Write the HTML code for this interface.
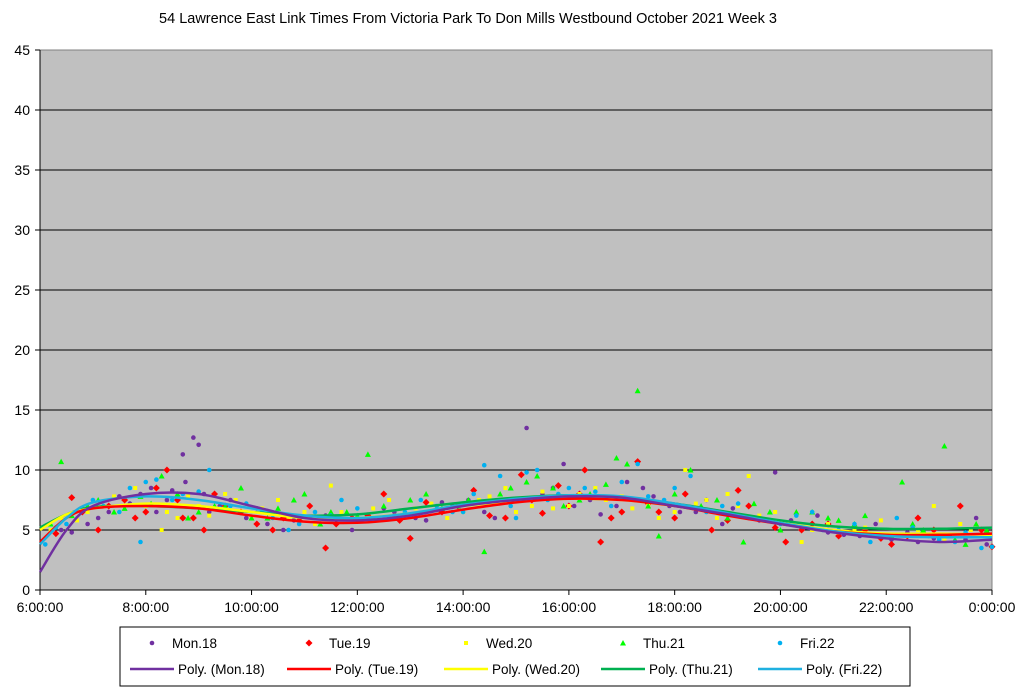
<!DOCTYPE html>
<html><head><meta charset="utf-8"><style>
body{margin:0;background:#fff;font-family:"Liberation Sans",sans-serif}
svg{display:block}
</style></head><body>
<svg id="chart" width="1024" height="692" viewBox="0 0 1024 692">
<text x="468" y="23" text-anchor="middle" font-size="14.5" fill="#000">54 Lawrence East Link Times From Victoria Park To Don Mills Westbound October 2021  Week 3</text>
<rect x="40" y="50" width="952" height="540" fill="#c0c0c0" stroke="#808080"/>
<g id="grid"></g><g id="axes"></g><g id="pts"></g><g id="lines"></g>
<rect x="120" y="627" width="790" height="59" fill="#fff" stroke="#000"/>
<g id="legend"></g>
</svg>
<script>
const yTicks=[0,5,10,15,20,25,30,35,40,45];
const xTicks=[6,8,10,12,14,16,18,20,22,24];
const xTickLabels=["6:00:00","8:00:00","10:00:00","12:00:00","14:00:00","16:00:00","18:00:00","20:00:00","22:00:00","0:00:00"];
const seriesNames=["Mon.18","Tue.19","Wed.20","Thu.21","Fri.22"];
const trendT=[6,6.5,7,8,9,10,11,12,13,14,15,16,17,18,19,20,21,22,23,24];
const monTrend=[1.5,5,7,8,8,7,6,5.8,6.2,7,7.5,7.8,7.7,7,6.3,5.5,4.8,4.3,4,4.2];
const tueTrend=[4,6,6.8,7,6.8,6.2,5.7,5.6,6,6.7,7.3,7.6,7.5,7,6.2,5.5,4.9,4.6,4.6,4.7];
const wedTrend=[5,6.3,6.8,7.2,7,6.5,6,6,6.4,7,7.4,7.6,7.5,7,6.3,5.6,5,4.7,4.7,4.6];
const thuTrend=[5.2,6.3,6.9,7,6.8,6.5,6.2,6.3,6.8,7.3,7.7,7.9,7.7,7.2,6.5,5.8,5.3,5.1,5.1,5.2];
const friTrend=[3.8,6,7.3,7.8,7.5,6.8,6.2,6,6.4,7.1,7.6,7.9,7.8,7.2,6.4,5.6,4.9,4.5,4.4,4.4];
const monT=[6.4,6.9,7.3,7.7,8.1,8.4,8.7,8.75,8.9,9.0,9.1,9.4,9.9,10.3,10.6,11.2,11.6,12.2,12.7,13.3,13.8,14.4,14.9,15.2,15.5,15.9,16.4,16.9,17.4,17.9,18.4,18.9,19.4,19.9,20.4,20.9,21.5,22.1,22.6,23.2,23.7,
 6.6,7.1,7.5,7.9,8.2,8.5,9.2,9.6,10.1,10.8,11.4,11.9,12.5,13.1,13.6,14.1,14.6,15.7,16.1,16.6,17.1,17.6,18.1,18.6,19.1,19.6,20.2,20.7,21.2,21.8,22.4,22.9,23.5,23.9];
const monV=[5,5.5,6.5,7.2,8.5,7.5,11.3,9,12.7,12.1,8,7,6,5.5,5,6,5.5,6,6.5,5.8,7,6.5,7.5,13.5,8,10.5,7.5,7,8.5,7,6.5,5.5,6,9.8,5,4.8,4.5,4.2,4,4.5,6,
 4.8,6,7.8,8,6.5,8.3,6.5,7.5,6.8,5.8,6.2,5,6.8,6,7.3,7.5,6,8.5,7,6.3,9,7.8,6.5,7.5,6.8,5.8,5.8,6.2,4.6,5.5,4.8,4.3,4.2,3.8];
const tueT=[6.3,6.6,7.1,7.6,8.0,8.4,8.7,9.1,9.5,10.1,10.6,11.1,11.4,11.9,12.5,13.0,13.6,14.2,14.8,15.1,15.5,16.0,16.3,16.6,17.0,17.3,17.7,18.2,18.7,19.2,19.6,20.1,20.6,21.1,21.6,22.1,22.6,23.0,23.4,23.8,24,
 6.8,7.3,7.8,8.2,8.6,8.9,9.3,9.8,10.4,10.9,11.6,12.2,12.8,13.3,13.9,14.5,15.3,15.8,16.2,16.8,17.5,18.0,18.5,19.0,19.4,19.9,20.4,20.9,21.4,21.9,22.4,22.9];
const tueV=[4.7,7.7,5,7.5,6.5,10,6,5,7,5.5,6,7,3.5,6,8,4.3,6.5,8.3,6,9.6,6.4,7,10,4,6.5,10.7,6.5,8,5,8.3,6,4,5.5,4.5,5,3.8,6,4.5,7,5,3.6,
 6.5,7,6,8.5,7.5,6,8,6.5,5,5.8,5.5,6.2,5.8,7.3,7,6.2,7.5,8.7,8,6,7.2,6,6.8,5.8,7,5.2,5,5.5,4.8,4.3,4.5,5];
const wedT=[6.2,6.7,7.2,7.8,8.3,8.6,9.0,9.5,10.0,10.5,11.0,11.5,12.0,12.6,13.1,13.7,14.3,14.8,15.3,15.7,16.2,16.7,17.2,17.7,18.2,18.6,19.0,19.4,19.9,20.4,20.9,21.4,21.9,22.4,22.9,23.4,23.9,
 6.4,6.9,7.4,8.0,8.4,8.8,9.2,9.7,10.2,10.7,11.2,11.7,12.3,12.8,13.4,14.0,14.5,15.0,15.5,16.0,16.5,17.0,17.5,18.0,18.4,18.8,19.2,19.6,20.1,20.6,21.1,21.6,22.1,22.6,23.1,23.6];
const wedV=[5,5.8,7,8.5,5,6,7,8,6,7.5,6.5,8.7,6,7.5,6.8,6,7.5,8.5,7,6.8,8,7.5,6.8,6,10,7.5,8,9.5,6.5,4,5.5,5,5.8,4.5,7,5.5,4.5,
 6,6.5,7.8,7,6.5,7.8,6.2,7.5,6.8,6,5.5,6.5,6.8,6,7.2,6.5,7.8,6.5,8.2,7,8.5,7.8,7,6.5,7.2,6,7,6.2,5.5,5,4.8,5.2,4.4,5,4.2,5];
const thuT=[6.2,6.4,6.9,7.4,7.9,8.3,8.8,9.3,9.8,10.3,10.8,11.3,11.8,12.2,12.7,13.3,13.9,14.4,14.9,15.4,15.9,16.4,16.9,17.1,17.3,17.7,18.3,18.8,19.3,19.8,20.3,20.9,21.4,21.9,22.3,22.7,23.1,23.5,23.9,
 6.6,7.1,7.6,8.1,8.6,9.0,9.5,10.0,10.5,11.0,11.5,12.0,12.5,13.0,13.6,14.1,14.7,15.2,15.7,16.2,16.7,17.5,18.0,18.5,19.0,19.5,20.0,20.6,21.1,21.6,22.1,22.5,23.3,23.7];
const thuV=[5.5,10.7,7,6.5,7.8,9.5,6,7,8.5,6,7.5,5.5,6.5,11.3,6,8,7,3.2,8.5,9.5,7,8,11,10.5,16.6,4.5,10,7.5,4,6.5,6.5,6,5.5,4.5,9,5,12,3.8,5,
 6.2,7.5,6.8,7.2,8,6.5,7,6,6.8,8,6.5,6.2,7,7.5,6.8,7.5,8,9,8.5,7.5,8.8,7,8,7,6,7.2,5,6.5,5.8,6.2,4.5,5.5,4.2,5.5];
const friT=[6.1,6.5,7.0,7.5,7.9,8.2,8.7,9.2,9.6,10.2,10.7,11.2,11.7,12.3,12.9,13.5,14.0,14.4,14.7,15.0,15.4,15.8,16.3,16.8,17.3,17.8,18.3,18.9,19.5,20.0,20.6,21.1,21.7,22.2,22.8,23.3,23.8,
 6.3,6.8,7.2,7.7,8.0,8.5,9.0,9.4,9.9,10.4,10.9,11.5,12.0,12.6,13.2,13.8,14.2,14.9,15.2,15.6,16.0,16.5,17.0,17.5,18.0,18.6,19.2,19.8,20.3,20.8,21.4,21.9,22.5,23.0,23.5,24.0];
const friV=[3.8,5.5,7.5,6.5,4,9.2,8,10,7,6.5,5,6.5,7.5,6,6.5,7,6.5,10.4,9.5,6,10,8,8.5,7,10.5,7.5,9.5,7,6,5.5,6.5,5,4,6,4.5,4,3.5,
 5.2,6.8,7,8.5,9,7.5,8.2,6.8,7.2,6,5.5,6.2,6.8,6,7.5,6.5,8,7,9.8,7.5,8.5,8.2,9,7.8,8.5,6.5,7.2,5.8,6.2,5,5.5,4.6,5.2,4.2,4.8,3.6];
const colors=["#7030a0","#ff0000","#ffff00","#00ff00","#00b0f0"];
const lineColors=["#7030a0","#ff0000","#ffff00","#00b050","#1fb0e0"];
const shapes=["circle","diamond","square","triangle","circle"];
const NS="http://www.w3.org/2000/svg";
const X=t=>40+(t-6)*952/18, Y=v=>590-v*12;
function mk(tag,attrs,parent){const e=document.createElementNS(NS,tag);for(const k in attrs)e.setAttribute(k,attrs[k]);parent.appendChild(e);return e;}
const grid=document.getElementById('grid'),axes=document.getElementById('axes'),pts=document.getElementById('pts'),lines=document.getElementById('lines'),leg=document.getElementById('legend');
yTicks.forEach(v=>{
 if(v>0&&v<45){const l=mk('line',{x1:40,x2:992,y1:Y(v),y2:Y(v),stroke:'#000','stroke-width':1},grid);
 
 }
 const t=mk('text',{x:30,y:Y(v)+5,'text-anchor':'end','font-size':14},axes);t.textContent=v;
 
 
 mk('line',{x1:35,x2:40,y1:Y(v),y2:Y(v),stroke:'#000'},axes);
});
mk('line',{x1:40,x2:992,y1:590,y2:590,stroke:'#000'},axes);
mk('line',{x1:40,x2:40,y1:50,y2:590,stroke:'#000'},axes);
xTicks.forEach((h,i)=>{
 mk('line',{x1:X(h),x2:X(h),y1:590,y2:595,stroke:'#000'},axes);
 const t=mk('text',{x:X(h),y:612,'text-anchor':'middle','font-size':14},axes);t.textContent=xTickLabels[i];
 
 
});
function marker(shape,x,y,c,p){
 if(shape==='circle')return mk('circle',{cx:x,cy:y,r:2.3,fill:c},p);
 if(shape==='square')return mk('rect',{x:x-2,y:y-2,width:4,height:4,fill:c},p);
 if(shape==='diamond')return mk('polygon',{points:`${x},${y-3.5} ${x+3.5},${y} ${x},${y+3.5} ${x-3.5},${y}`,fill:c},p);
 return mk('polygon',{points:`${x},${y-3} ${x+3},${y+2.5} ${x-3},${y+2.5}`,fill:c},p);
}
const allT=[monT,tueT,wedT,thuT,friT],allV=[monV,tueV,wedV,thuV,friV],trends=[monTrend,tueTrend,wedTrend,thuTrend,friTrend];
allT.forEach((ts,s)=>ts.forEach((t,i)=>{
 const m=marker(shapes[s],X(t),Y(allV[s][i]),colors[s],pts);
 
 
}));
function smooth(ts,vs){const P=ts.map((t,i)=>[X(t),Y(vs[i])]);let d=`M${P[0][0]},${P[0][1]}`;
 for(let i=0;i<P.length-1;i++){const p0=P[Math.max(0,i-1)],p1=P[i],p2=P[i+1],p3=P[Math.min(P.length-1,i+2)];
 d+=` C${p1[0]+(p2[0]-p0[0])/6},${p1[1]+(p2[1]-p0[1])/6} ${p2[0]-(p3[0]-p1[0])/6},${p2[1]-(p3[1]-p1[1])/6} ${p2[0]},${p2[1]}`;}return d;}
[3,2,1,4,0].forEach(s=>{const p=mk('path',{d:smooth(trendT,trends[s]),fill:'none',stroke:lineColors[s],'stroke-width':2.5},lines);
 
 });
seriesNames.forEach((n,s)=>{
 const x0=147+s*157;
 const m=marker(shapes[s],x0+5,643,colors[s],leg);
 
 
 const t=mk('text',{x:x0+25,y:648,'font-size':13.5},leg);t.textContent=n;
 
 
 const l=mk('line',{x1:x0-17,x2:x0+27,y1:669,y2:669,stroke:lineColors[s],'stroke-width':2.5},leg);
 
 
 const t2=mk('text',{x:x0+31,y:674,'font-size':13.5},leg);t2.textContent='Poly. ('+n+')';
 
 
});
</script>
</body></html>
